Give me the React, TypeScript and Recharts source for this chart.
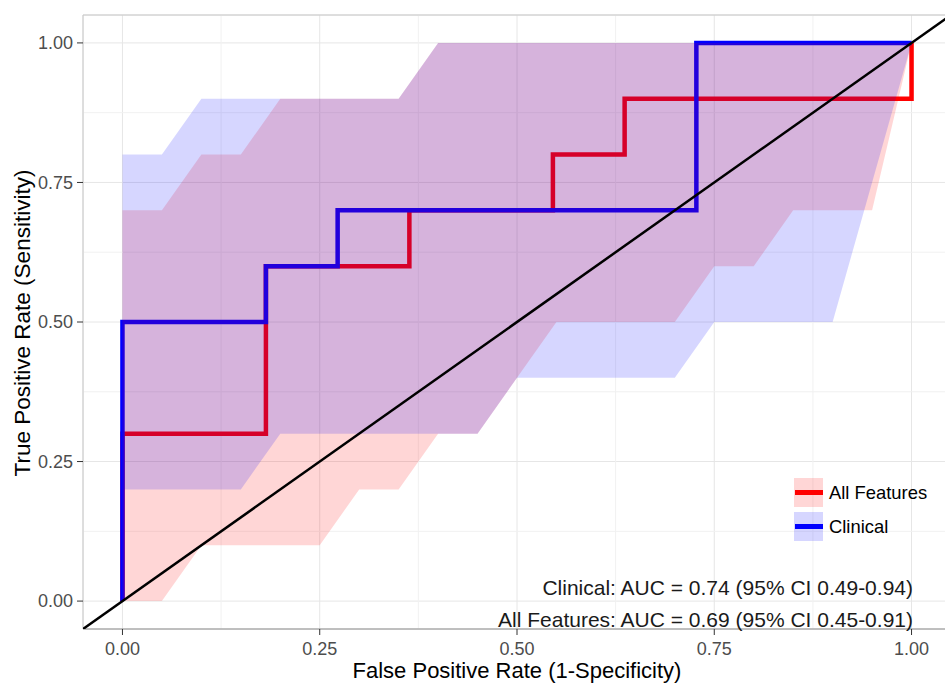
import {
  ComposedChart,
  Area,
  Line,
  XAxis,
  YAxis,
  CartesianGrid,
  ReferenceLine,
} from "recharts";

// bootstrap CI of sensitivity, sampled every 0.05 of false positive rate
const fprGrid = [
  0, 0.05, 0.1, 0.15, 0.2, 0.25, 0.3, 0.35, 0.4, 0.45, 0.5, 0.55, 0.6, 0.65,
  0.7, 0.75, 0.8, 0.85, 0.9, 0.95, 1,
];
const allLower = [
  0, 0, 0.1, 0.1, 0.1, 0.1, 0.2, 0.2, 0.3, 0.3, 0.4, 0.5, 0.5, 0.5, 0.5, 0.6,
  0.6, 0.7, 0.7, 0.7, 1,
];
const allUpper = [
  0.7, 0.7, 0.8, 0.8, 0.9, 0.9, 0.9, 0.9, 1, 1, 1, 1, 1, 1, 1, 1, 1, 1, 1, 1, 1,
];
const clinLower = [
  0.2, 0.2, 0.2, 0.2, 0.3, 0.3, 0.3, 0.3, 0.3, 0.3, 0.4, 0.4, 0.4, 0.4, 0.4,
  0.5, 0.5, 0.5, 0.5, 0.75, 1,
];
const clinUpper = [
  0.8, 0.8, 0.9, 0.9, 0.9, 0.9, 0.9, 0.9, 1, 1, 1, 1, 1, 1, 1, 1, 1, 1, 1, 1, 1,
];

// ROC curves (step points)
const allFpr = [0, 0, 0.1818, 0.3636, 0.5455, 0.6364, 1];
const allTpr = [0, 0.3, 0.6, 0.7, 0.8, 0.9, 1];
const clinFpr = [0, 0, 0.1818, 0.2727, 0.7273, 1];
const clinTpr = [0, 0.5, 0.6, 0.7, 1, 1];

const diagonal = [-0.05, 1.05];
const majorTicks = [0, 0.25, 0.5, 0.75, 1];
const minorTicks = [0.125, 0.375, 0.625, 0.875];

const seriesNames = ["All Features", "Clinical"];
const seriesColors = ["#ff0000", "#0000ff"];
const aucLabels = [
  "Clinical: AUC = 0.74 (95% CI 0.49-0.94)",
  "All Features: AUC = 0.69 (95% CI 0.45-0.91)",
];

const bandData = fprGrid.map((x, i) => ({
  x,
  all: [allLower[i], allUpper[i]],
  clin: [clinLower[i], clinUpper[i]],
}));
const allCurve = allFpr.map((x, i) => ({ x, y: allTpr[i] }));
const clinCurve = clinFpr.map((x, i) => ({ x, y: clinTpr[i] }));
const diagData = diagonal.map((v) => ({ x: v, y: v }));

const font = "'Liberation Sans', Arial, sans-serif";
const fmt = (v: number) => v.toFixed(2);

const App = () => {
  return (
    <div
      style={{
        position: "absolute",
        left: 0,
        top: 0,
        width: 945,
        height: 684,
        overflow: "hidden",
        background: "#fff",
        fontFamily: font,
      }}
    >
      <ComposedChart
        width={951}
        height={684}
        data={bandData}
        margin={{ top: 15, right: 0, bottom: 0, left: 0 }}
        style={{ fontFamily: font }}
      >
        <CartesianGrid stroke="#e6e6e6" />
        {minorTicks.map((t) => (
          <ReferenceLine key={"v" + t} x={t} stroke="#f1f1f1" zIndex={-90} />
        ))}
        {minorTicks.map((t) => (
          <ReferenceLine key={"h" + t} y={t} stroke="#f1f1f1" zIndex={-90} />
        ))}
        <ReferenceLine y={1.05} stroke="#c8c8c8" />
        <XAxis
          dataKey="x"
          type="number"
          domain={[-0.05, 1.05]}
          allowDataOverflow
          ticks={majorTicks}
          tickFormatter={fmt}
          height={55}
          tickSize={6}
          tickMargin={7}
          axisLine={{ stroke: "#8a8a8a" }}
          tickLine={{ stroke: "#333" }}
          tick={{ fill: "#4d4d4d", fontSize: 18 }}
          label={{
            content: () => (
              <text
                x={517}
                y={678}
                textAnchor="middle"
                fontSize={22}
                fill="#000"
              >
                False Positive Rate (1-Specificity)
              </text>
            ),
          }}
        />
        <YAxis
          type="number"
          domain={[-0.05, 1.05]}
          allowDataOverflow
          ticks={majorTicks}
          tickFormatter={fmt}
          width={83}
          tickSize={6}
          tickMargin={4}
          axisLine={{ stroke: "#c8c8c8" }}
          tickLine={{ stroke: "#333" }}
          tick={{ fill: "#4d4d4d", fontSize: 18 }}
          label={{
            content: () => (
              <text
                x={30}
                y={323}
                textAnchor="middle"
                fontSize={22.5}
                fill="#000"
                transform="rotate(-90 30 323)"
              >
                True Positive Rate (Sensitivity)
              </text>
            ),
          }}
        />
        <Line
          data={allCurve}
          dataKey="y"
          type="stepAfter"
          stroke={seriesColors[0]}
          strokeWidth={4.5}
          dot={false}
          activeDot={false}
          isAnimationActive={false}
          zIndex={50}
        />
        <Line
          data={clinCurve}
          dataKey="y"
          type="stepAfter"
          stroke={seriesColors[1]}
          strokeWidth={4.5}
          dot={false}
          activeDot={false}
          isAnimationActive={false}
          zIndex={50}
        />
        <Area
          dataKey="all"
          type="linear"
          stroke="none"
          fill={seriesColors[0]}
          fillOpacity={0.16}
          activeDot={false}
          isAnimationActive={false}
        />
        <Area
          dataKey="clin"
          type="linear"
          stroke="none"
          fill={seriesColors[1]}
          fillOpacity={0.16}
          activeDot={false}
          isAnimationActive={false}
        />
        <Line
          data={diagData}
          dataKey="y"
          type="linear"
          stroke="#000"
          strokeWidth={2.5}
          dot={false}
          activeDot={false}
          isAnimationActive={false}
          zIndex={500}
        />
      </ComposedChart>

      {seriesNames.map((name, i) => (
        <div
          key={name}
          style={{
            position: "absolute",
            left: 794,
            top: 478 + i * 34,
            height: 29,
            display: "flex",
            alignItems: "center",
          }}
        >
          <div
            style={{
              width: 29,
              height: 29,
              background: seriesColors[i],
              opacity: 0.16,
              position: "absolute",
              left: 0,
              top: 0,
            }}
          />
          <div
            style={{
              width: 28,
              height: 4.5,
              background: seriesColors[i],
              position: "absolute",
              left: 1,
              top: 12.25,
            }}
          />
          <span
            style={{
              marginLeft: 35,
              fontSize: 18.4,
              lineHeight: "29px",
              color: "#000",
              whiteSpace: "nowrap",
            }}
          >
            {name}
          </span>
        </div>
      ))}

      {aucLabels.map((t, i) => (
        <div
          key={t}
          style={{
            position: "absolute",
            right: 32,
            top: 576 + i * 32,
            fontSize: 21,
            lineHeight: "24px",
            color: "#1a1a1a",
            whiteSpace: "nowrap",
          }}
        >
          {t}
        </div>
      ))}
    </div>
  );
};

export default App;
